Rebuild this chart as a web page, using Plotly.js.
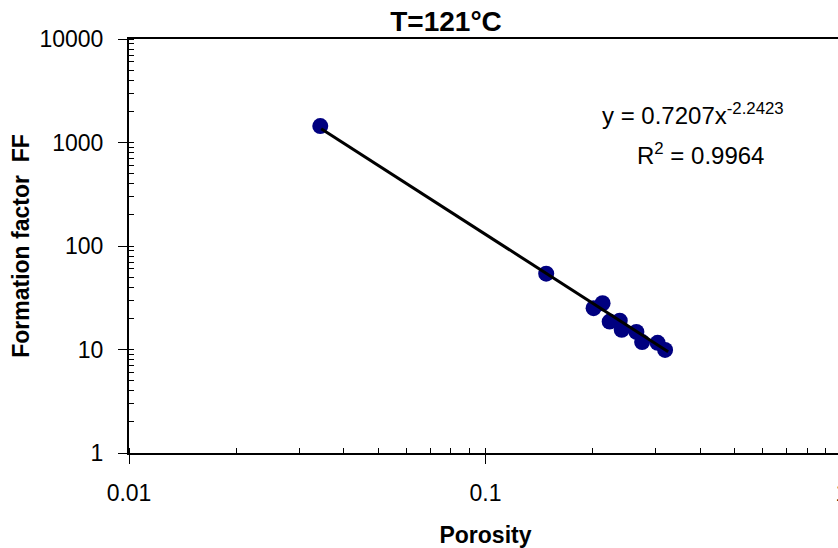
<!DOCTYPE html>
<html>
<head>
<meta charset="utf-8">
<script src="https://cdn.plot.ly/plotly-3.0.1.min.js"></script>
<style>
html,body{margin:0;padding:0;overflow:hidden;background:#fff;}
#chart{width:880px;height:548px;}
</style>
</head>
<body>
<div id="chart"></div>
<script>
// Measured porosity / formation factor points (T = 121 °C)
var porosity = [0.0344, 0.148, 0.201, 0.213, 0.223, 0.238, 0.241, 0.265, 0.275, 0.304, 0.319];
var formationFactor = [1440, 54, 25.1, 28.0, 18.6, 19.0, 15.5, 14.8, 11.8, 11.6, 9.9];

// Power-law trend line end points
var trendX = [0.0346, 0.3254];
var trendY = [1360, 9.5];

var xTickVals = [0.01, 0.1, 1];
var xTickText = ['0.01', '0.1', '1'];
var yTickVals = [1, 10, 100, 1000, 10000];
var yTickText = ['1', '10', '100', '1000', '10000'];

var chartTitle = 'T=121°C';
var xTitle = 'Porosity';
var yTitle = 'Formation factor\u00a0 FF';
var eqText = 'y = 0.7207x<sup>-2.2423</sup>';
var r2Text = 'R<sup>2</sup> = 0.9964';

var font = 'Arial, "Liberation Sans", sans-serif';

var traces = [
  {
    x: porosity, y: formationFactor, type: 'scatter', mode: 'markers',
    marker: {color: '#000080', size: 16, line: {width: 0}},
    hoverinfo: 'x+y', showlegend: false, cliponaxis: false
  },
  {
    x: trendX, y: trendY, type: 'scatter', mode: 'lines',
    line: {color: '#000000', width: 3},
    showlegend: false
  }
];

var layout = {
  width: 880, height: 548,
  margin: {l: 129, r: 38, t: 39, b: 95},
  paper_bgcolor: '#ffffff', plot_bgcolor: '#ffffff',
  font: {family: font, color: '#000000', size: 23},
  title: {
    text: '<b>' + chartTitle + '</b>',
    font: {family: font, size: 28, color: '#000'},
    xref: 'container', yref: 'container',
    x: 446 / 880, xanchor: 'center',
    y: 1 - 21 / 548, yanchor: 'middle'
  },
  xaxis: {
    type: 'log', range: [-2, 0],
    tickvals: xTickVals, ticktext: xTickText,
    ticks: 'outside', ticklen: 9, tickwidth: 1, tickcolor: '#000',
    minor: {ticks: 'inside', ticklen: 5, tickwidth: 1, tickcolor: '#000', dtick: 'D1', showgrid: false},
    showline: true, linecolor: '#000', linewidth: 2, mirror: true,
    showgrid: false, zeroline: false,
    tickfont: {family: font, size: 23, color: '#000'},
    ticklabelstandoff: 9,
    title: {text: '<b>' + xTitle + '</b>', font: {family: font, size: 23, color: '#000'}, standoff: 26}
  },
  yaxis: {
    type: 'log', range: [0, 4],
    tickvals: yTickVals, ticktext: yTickText,
    ticks: 'outside', ticklen: 9, tickwidth: 1, tickcolor: '#000',
    minor: {ticks: 'inside', ticklen: 5, tickwidth: 1, tickcolor: '#000', dtick: 'D1', showgrid: false},
    showline: true, linecolor: '#000', linewidth: 2, mirror: false,
    showgrid: false, zeroline: false,
    tickfont: {family: font, size: 23, color: '#000'},
    ticklabelstandoff: 10,
    title: {text: '<b>' + yTitle + '</b>', font: {family: font, size: 23, color: '#000'}, standoff: 3}
  },
  annotations: [
    {
      text: eqText, xref: 'paper', yref: 'paper',
      x: (693 - 129) / 713, y: (453 - 114) / 414,
      xanchor: 'center', yanchor: 'middle', showarrow: false,
      font: {family: font, size: 24, color: '#000'}
    },
    {
      text: r2Text, xref: 'paper', yref: 'paper',
      x: (700 - 129) / 713, y: (453 - 154) / 414,
      xanchor: 'center', yanchor: 'middle', showarrow: false,
      font: {family: font, size: 24, color: '#000'}
    }
  ],
  showlegend: false
};

Plotly.newPlot('chart', traces, layout, {displayModeBar: false, staticPlot: true});
</script>
</body>
</html>
